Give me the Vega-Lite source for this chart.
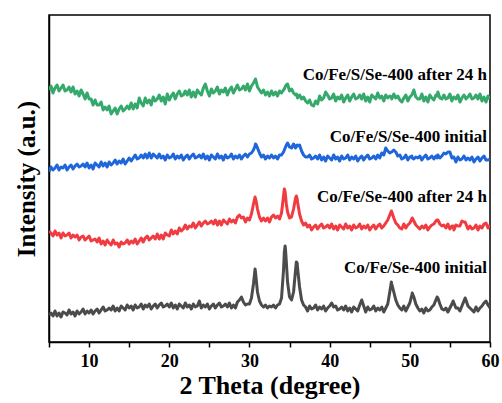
{
"$schema": "https://vega.github.io/schema/vega-lite/v6.json",
"autosize": {"type": "none"},
"padding": {"left": 49, "top": 15, "right": 12, "bottom": 61},
"width": 441,
"height": 327,
"background": "white",
"config": {"view": {"stroke": "black", "strokeWidth": 1.5}, "font": "Liberation Serif"},
"layer": [
{
"data": {"values": [
{"t":5,"k":27,"r":111,"b":170,"g":252},
{"t":5.25,"k":29,"r":109,"b":175,"g":256},
{"t":5.5,"k":26,"r":106,"b":172,"g":249},
{"t":5.75,"k":31,"r":111,"b":174,"g":254},
{"t":6,"k":26,"r":107,"b":177,"g":257},
{"t":6.25,"k":29,"r":109,"b":172,"g":251},
{"t":6.5,"k":25,"r":104,"b":175,"g":254},
{"t":6.75,"k":30,"r":109,"b":174,"g":257},
{"t":7,"k":29,"r":106,"b":177,"g":251},
{"t":7.25,"k":27,"r":107,"b":172,"g":252},
{"t":7.5,"k":32,"r":109,"b":175,"g":255},
{"t":7.75,"k":28,"r":104,"b":177,"g":250},
{"t":8,"k":30,"r":107,"b":173,"g":255},
{"t":8.25,"k":26,"r":105,"b":176,"g":248},
{"t":8.5,"k":31,"r":107,"b":178,"g":251},
{"t":8.75,"k":28,"r":102,"b":175,"g":246},
{"t":9,"k":30,"r":105,"b":176,"g":252},
{"t":9.25,"k":33,"r":106,"b":178,"g":248},
{"t":9.5,"k":28,"r":102,"b":175,"g":243},
{"t":9.75,"k":31,"r":104,"b":179,"g":249},
{"t":10,"k":29,"r":106,"b":174,"g":243},
{"t":10.25,"k":32,"r":101,"b":177,"g":243},
{"t":10.5,"k":28,"r":102,"b":173,"g":237},
{"t":10.75,"k":31,"r":103,"b":179,"g":242},
{"t":11,"k":33,"r":100,"b":177,"g":237},
{"t":11.25,"k":29,"r":104,"b":175,"g":237},
{"t":11.5,"k":32,"r":98,"b":180,"g":240},
{"t":11.75,"k":35,"r":101,"b":176,"g":232},
{"t":12,"k":31,"r":97,"b":179,"g":235},
{"t":12.25,"k":32,"r":102,"b":175,"g":232},
{"t":12.5,"k":34,"r":99,"b":180,"g":236},
{"t":12.75,"k":32,"r":97,"b":177,"g":228},
{"t":13,"k":36,"r":102,"b":179,"g":231},
{"t":13.25,"k":31,"r":98,"b":182,"g":234},
{"t":13.5,"k":34,"r":99,"b":178,"g":228},
{"t":13.75,"k":31,"r":95,"b":181,"g":233},
{"t":14,"k":36,"r":100,"b":179,"g":236},
{"t":14.25,"k":34,"r":98,"b":183,"g":231},
{"t":14.5,"k":32,"r":99,"b":178,"g":233},
{"t":14.75,"k":37,"r":102,"b":181,"g":236},
{"t":15,"k":34,"r":98,"b":184,"g":233},
{"t":15.25,"k":36,"r":101,"b":181,"g":239},
{"t":15.5,"k":32,"r":99,"b":184,"g":233},
{"t":15.75,"k":37,"r":103,"b":187,"g":238},
{"t":16,"k":34,"r":98,"b":183,"g":234},
{"t":16.25,"k":35,"r":101,"b":184,"g":244},
{"t":16.5,"k":38,"r":104,"b":187,"g":239},
{"t":16.75,"k":33,"r":100,"b":184,"g":236},
{"t":17,"k":37,"r":104,"b":188,"g":244},
{"t":17.25,"k":35,"r":106,"b":184,"g":239},
{"t":17.5,"k":38,"r":102,"b":189,"g":242},
{"t":17.75,"k":33,"r":104,"b":184,"g":237},
{"t":18,"k":36,"r":106,"b":188,"g":245},
{"t":18.25,"k":38,"r":103,"b":186,"g":241},
{"t":18.5,"k":34,"r":108,"b":184,"g":243},
{"t":18.75,"k":37,"r":103,"b":188,"g":247},
{"t":19,"k":39,"r":107,"b":184,"g":241},
{"t":19.25,"k":35,"r":103,"b":186,"g":245},
{"t":19.5,"k":36,"r":109,"b":182,"g":238},
{"t":19.75,"k":38,"r":107,"b":187,"g":248},
{"t":20,"k":35,"r":106,"b":184,"g":242},
{"t":20.25,"k":39,"r":112,"b":185,"g":246},
{"t":20.5,"k":34,"r":108,"b":188,"g":249},
{"t":20.75,"k":37,"r":111,"b":183,"g":243},
{"t":21,"k":33,"r":108,"b":186,"g":248},
{"t":21.25,"k":38,"r":114,"b":184,"g":251},
{"t":21.5,"k":36,"r":111,"b":187,"g":246},
{"t":21.75,"k":34,"r":113,"b":182,"g":247},
{"t":22,"k":39,"r":117,"b":185,"g":251},
{"t":22.25,"k":35,"r":113,"b":187,"g":247},
{"t":22.5,"k":37,"r":116,"b":183,"g":252},
{"t":22.75,"k":33,"r":115,"b":186,"g":245},
{"t":23,"k":38,"r":119,"b":188,"g":250},
{"t":23.25,"k":35,"r":114,"b":184,"g":245},
{"t":23.5,"k":36,"r":117,"b":185,"g":252},
{"t":23.75,"k":41,"r":120,"b":187,"g":249},
{"t":24,"k":34,"r":116,"b":184,"g":247},
{"t":24.25,"k":37,"r":119,"b":188,"g":254},
{"t":24.5,"k":35,"r":121,"b":183,"g":258},
{"t":24.75,"k":38,"r":118,"b":186,"g":251},
{"t":25,"k":33,"r":119,"b":182,"g":246},
{"t":25.25,"k":36,"r":121,"b":187,"g":253},
{"t":25.5,"k":38,"r":118,"b":185,"g":249},
{"t":25.75,"k":34,"r":122,"b":183,"g":251},
{"t":26,"k":37,"r":117,"b":188,"g":255},
{"t":26.25,"k":39,"r":121,"b":184,"g":248},
{"t":26.5,"k":35,"r":117,"b":186,"g":252},
{"t":26.75,"k":36,"r":122,"b":182,"g":250},
{"t":27,"k":38,"r":120,"b":187,"g":254},
{"t":27.25,"k":35,"r":118,"b":184,"g":247},
{"t":27.5,"k":39,"r":123,"b":185,"g":252},
{"t":27.75,"k":34,"r":120,"b":188,"g":255},
{"t":28,"k":37,"r":122,"b":183,"g":249},
{"t":28.25,"k":34,"r":119,"b":186,"g":253},
{"t":28.5,"k":40,"r":125,"b":184,"g":257},
{"t":28.75,"k":42,"r":127,"b":187,"g":252},
{"t":29,"k":45,"r":124,"b":183,"g":253},
{"t":29.25,"k":40,"r":125,"b":186,"g":256},
{"t":29.5,"k":37,"r":120,"b":188,"g":252},
{"t":29.75,"k":38,"r":124,"b":185,"g":258},
{"t":30,"k":38,"r":122,"b":188,"g":251},
{"t":30.25,"k":44,"r":128,"b":189,"g":256},
{"t":30.5,"k":58,"r":138,"b":192,"g":259},
{"t":30.7,"k":73,"r":145,"b":196,"g":262},
{"t":30.75,"k":70,"r":143,"b":198,"g":263},
{"t":30.85,"k":62,"r":140,"b":197,"g":260},
{"t":31,"k":50,"r":133,"b":194,"g":255},
{"t":31.25,"k":41,"r":125,"b":189,"g":252},
{"t":31.5,"k":37,"r":121,"b":185,"g":249},
{"t":31.75,"k":35,"r":124,"b":187,"g":252},
{"t":32,"k":37,"r":121,"b":183,"g":247},
{"t":32.25,"k":34,"r":124,"b":186,"g":250},
{"t":32.5,"k":36,"r":120,"b":184,"g":246},
{"t":32.75,"k":35,"r":125,"b":187,"g":251},
{"t":33,"k":37,"r":127,"b":184,"g":247},
{"t":33.25,"k":34,"r":124,"b":186,"g":250},
{"t":33.5,"k":37,"r":126,"b":183,"g":246},
{"t":33.75,"k":38,"r":123,"b":187,"g":251},
{"t":34,"k":44,"r":129,"b":187,"g":249},
{"t":34.25,"k":72,"r":146,"b":190,"g":252},
{"t":34.35,"k":90,"r":153,"b":192,"g":253},
{"t":34.45,"k":96,"r":150,"b":194,"g":255},
{"t":34.5,"k":92,"r":146,"b":195,"g":256},
{"t":34.6,"k":80,"r":138,"b":197,"g":257},
{"t":34.75,"k":60,"r":130,"b":199,"g":258},
{"t":35,"k":45,"r":124,"b":195,"g":251},
{"t":35.25,"k":42,"r":125,"b":194,"g":253},
{"t":35.5,"k":50,"r":133,"b":198,"g":249},
{"t":35.75,"k":72,"r":144,"b":194,"g":247},
{"t":35.85,"k":80,"r":146,"b":196,"g":248},
{"t":35.95,"k":79,"r":143,"b":197,"g":246},
{"t":36,"k":74,"r":140,"b":196,"g":244},
{"t":36.25,"k":55,"r":128,"b":197,"g":247},
{"t":36.5,"k":42,"r":121,"b":191,"g":243},
{"t":36.75,"k":37,"r":117,"b":187,"g":245},
{"t":37,"k":35,"r":119,"b":185,"g":241},
{"t":37.25,"k":31,"r":115,"b":185,"g":239},
{"t":37.5,"k":36,"r":117,"b":187,"g":242},
{"t":37.75,"k":33,"r":112,"b":183,"g":237},
{"t":38,"k":34,"r":115,"b":184,"g":236},
{"t":38.25,"k":37,"r":117,"b":186,"g":241},
{"t":38.5,"k":32,"r":113,"b":183,"g":238},
{"t":38.75,"k":35,"r":116,"b":187,"g":246},
{"t":39,"k":33,"r":118,"b":182,"g":242},
{"t":39.25,"k":36,"r":114,"b":185,"g":244},
{"t":39.5,"k":31,"r":115,"b":181,"g":250},
{"t":39.75,"k":34,"r":117,"b":186,"g":247},
{"t":40,"k":36,"r":114,"b":184,"g":243},
{"t":40.25,"k":39,"r":118,"b":182,"g":244},
{"t":40.5,"k":35,"r":113,"b":187,"g":248},
{"t":40.75,"k":36,"r":116,"b":183,"g":241},
{"t":41,"k":32,"r":112,"b":185,"g":245},
{"t":41.25,"k":33,"r":117,"b":181,"g":243},
{"t":41.5,"k":35,"r":115,"b":186,"g":247},
{"t":41.75,"k":32,"r":113,"b":183,"g":240},
{"t":42,"k":36,"r":118,"b":184,"g":244},
{"t":42.25,"k":31,"r":114,"b":187,"g":247},
{"t":42.5,"k":34,"r":116,"b":182,"g":241},
{"t":42.75,"k":30,"r":112,"b":185,"g":245},
{"t":43,"k":35,"r":117,"b":183,"g":248},
{"t":43.25,"k":33,"r":114,"b":186,"g":243},
{"t":43.5,"k":31,"r":115,"b":181,"g":244},
{"t":43.75,"k":37,"r":118,"b":184,"g":247},
{"t":44,"k":42,"r":113,"b":186,"g":243},
{"t":44.25,"k":36,"r":116,"b":182,"g":248},
{"t":44.5,"k":30,"r":114,"b":185,"g":241},
{"t":44.75,"k":35,"r":117,"b":187,"g":245},
{"t":45,"k":32,"r":112,"b":183,"g":240},
{"t":45.25,"k":33,"r":115,"b":184,"g":247},
{"t":45.5,"k":36,"r":117,"b":186,"g":245},
{"t":45.75,"k":31,"r":113,"b":183,"g":243},
{"t":46,"k":34,"r":116,"b":187,"g":249},
{"t":46.25,"k":32,"r":118,"b":184,"g":244},
{"t":46.5,"k":35,"r":114,"b":189,"g":246},
{"t":46.75,"k":30,"r":116,"b":187,"g":241},
{"t":47,"k":34,"r":119,"b":194,"g":247},
{"t":47.25,"k":38,"r":122,"b":191,"g":244},
{"t":47.5,"k":50,"r":127,"b":189,"g":246},
{"t":47.7,"k":60,"r":131,"b":190,"g":245},
{"t":47.75,"k":58,"r":130,"b":190,"g":243},
{"t":48,"k":50,"r":124,"b":192,"g":248},
{"t":48.25,"k":42,"r":119,"b":190,"g":244},
{"t":48.5,"k":37,"r":117,"b":186,"g":246},
{"t":48.75,"k":34,"r":114,"b":187,"g":242},
{"t":49,"k":32,"r":113,"b":183,"g":240},
{"t":49.25,"k":36,"r":118,"b":184,"g":244},
{"t":49.5,"k":31,"r":114,"b":187,"g":247},
{"t":49.75,"k":35,"r":117,"b":182,"g":241},
{"t":50,"k":39,"r":119,"b":185,"g":245},
{"t":50.25,"k":47,"r":123,"b":186,"g":247},
{"t":50.3,"k":49,"r":124,"b":184,"g":248},
{"t":50.5,"k":45,"r":121,"b":183,"g":252},
{"t":50.75,"k":38,"r":117,"b":185,"g":245},
{"t":51,"k":34,"r":115,"b":184,"g":243},
{"t":51.25,"k":31,"r":113,"b":186,"g":243},
{"t":51.5,"k":33,"r":116,"b":182,"g":248},
{"t":51.75,"k":29,"r":114,"b":185,"g":241},
{"t":52,"k":34,"r":117,"b":187,"g":245},
{"t":52.25,"k":31,"r":112,"b":183,"g":240},
{"t":52.5,"k":32,"r":115,"b":184,"g":247},
{"t":52.75,"k":35,"r":117,"b":186,"g":244},
{"t":53,"k":37,"r":118,"b":183,"g":242},
{"t":53.25,"k":42,"r":121,"b":186,"g":247},
{"t":53.4,"k":45,"r":122,"b":184,"g":246},
{"t":53.5,"k":44,"r":122,"b":187,"g":250},
{"t":53.75,"k":38,"r":118,"b":184,"g":244},
{"t":54,"k":33,"r":116,"b":186,"g":243},
{"t":54.25,"k":32,"r":117,"b":189,"g":247},
{"t":54.5,"k":34,"r":114,"b":188,"g":243},
{"t":54.75,"k":30,"r":118,"b":190,"g":244},
{"t":55,"k":34,"r":113,"b":190,"g":248},
{"t":55.25,"k":38,"r":116,"b":184,"g":241},
{"t":55.4,"k":41,"r":116,"b":185,"g":244},
{"t":55.5,"k":39,"r":112,"b":185,"g":245},
{"t":55.75,"k":34,"r":117,"b":180,"g":243},
{"t":56,"k":34,"r":116,"b":185,"g":247},
{"t":56.25,"k":31,"r":116,"b":182,"g":240},
{"t":56.5,"k":36,"r":121,"b":183,"g":244},
{"t":56.75,"k":41,"r":120,"b":186,"g":247},
{"t":56.9,"k":44,"r":120,"b":184,"g":245},
{"t":57,"k":42,"r":118,"b":182,"g":243},
{"t":57.25,"k":36,"r":113,"b":184,"g":245},
{"t":57.5,"k":34,"r":116,"b":182,"g":248},
{"t":57.75,"k":32,"r":113,"b":185,"g":243},
{"t":58,"k":30,"r":114,"b":180,"g":244},
{"t":58.25,"k":35,"r":117,"b":183,"g":247},
{"t":58.5,"k":31,"r":112,"b":185,"g":243},
{"t":58.75,"k":34,"r":116,"b":181,"g":248},
{"t":59,"k":36,"r":114,"b":184,"g":241},
{"t":59.25,"k":39,"r":118,"b":186,"g":245},
{"t":59.5,"k":41,"r":119,"b":182,"g":240},
{"t":59.75,"k":37,"r":114,"b":182,"g":246},
{"t":60,"k":34,"r":117,"b":183,"g":243}
]},
"transform": [{"fold": ["k", "r", "b", "g"], "as": ["s", "v"]}],
"mark": {"type": "line", "strokeWidth": 3, "strokeJoin": "round", "clip": true},
"encoding": {
"x": {"field": "t", "type": "quantitative",
"scale": {"domain": [5, 60], "nice": false, "zero": false},
"axis": {"values": [5, 10, 15, 20, 25, 30, 35, 40, 45, 50, 55, 60],
"labelExpr": "datum.value % 10 === 0 ? datum.label : ''",
"grid": false, "domainColor": "black", "domainWidth": 1.5, "tickColor": "black", "tickWidth": 1.5, "tickSize": 5,
"labelFontSize": 18, "labelFontWeight": "bold", "labelColor": "black", "labelPadding": 5, "labelFlush": false, "labelOverlap": false,
"title": "2 Theta (degree)", "titleFontSize": 26, "titleFontWeight": "bold", "titleColor": "black", "titlePadding": 2}},
"y": {"field": "v", "type": "quantitative",
"scale": {"domain": [0, 327], "nice": false, "zero": false},
"axis": {"labels": false, "ticks": false, "grid": false, "domainColor": "black", "domainWidth": 1.5,
"title": "Intensity (a.u.)", "titleFontSize": 25, "titleFontWeight": "bold", "titleColor": "black", "titlePadding": 10}},
"color": {"field": "s", "type": "nominal",
"scale": {"domain": ["k", "r", "b", "g"], "range": ["#4b4b4b", "#f03c41", "#1e66d9", "#35a86b"]},
"legend": null}
}
},
{
"data": {"values": [
{"t": 60, "v": 267, "l": "Co/Fe/S/Se-400 after 24 h"},
{"t": 60, "v": 205, "l": "Co/Fe/S/Se-400 initial"},
{"t": 60, "v": 145, "l": "Co/Fe/Se-400 after 24 h"},
{"t": 60, "v": 74, "l": "Co/Fe/Se-400 initial"}
]},
"mark": {"type": "text", "align": "right", "baseline": "middle", "dx": -3, "font": "Liberation Serif", "fontWeight": "bold", "fontSize": 17, "color": "black"},
"encoding": {
"x": {"field": "t", "type": "quantitative"},
"y": {"field": "v", "type": "quantitative"},
"text": {"field": "l"}
}
}
]
}
